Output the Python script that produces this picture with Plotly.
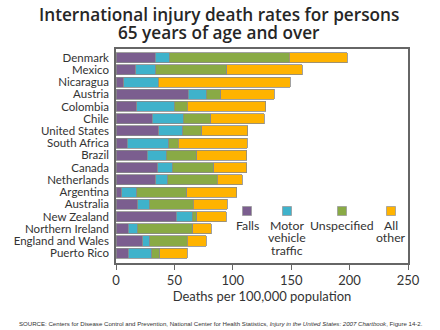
import plotly.graph_objects as go

countries = ["Denmark", "Mexico", "Nicaragua", "Austria", "Colombia", "Chile",
             "United States", "South Africa", "Brazil", "Canada", "Netherlands",
             "Argentina", "Australia", "New Zealand", "Northern Ireland",
             "England and Wales", "Puerto Rico"]
falls = [33.4, 16.8, 6.8, 61.9, 17.7, 31.1, 36.5, 9.7, 26.8, 35.7, 34.0,
         5.1, 18.6, 51.4, 10.6, 22.8, 10.6]
motor_vehicle = [12.2, 17.2, 29.4, 15.4, 32.2, 26.5, 20.5, 35.4, 16.3, 12.5, 10.5,
                 12.6, 9.9, 13.9, 7.7, 6.3, 19.9]
unspecified = [102.7, 60.7, 0.0, 12.3, 11.2, 23.4, 16.3, 8.3, 26.0, 35.4, 42.3,
               42.7, 37.7, 3.8, 47.3, 32.0, 6.9]
all_other = [49.7, 64.8, 113.0, 46.0, 67.3, 46.0, 39.7, 59.0, 42.8, 28.3, 21.1,
             42.9, 29.1, 25.4, 16.0, 16.0, 23.7]

series_names = ["Falls", "Motor vehicle traffic", "Unspecified", "All other"]
legend_lines = [["Falls"], ["Motor", "vehicle", "traffic"], ["Unspecified"], ["All", "other"]]
series_values = [falls, motor_vehicle, unspecified, all_other]
colors = ["#7b5e8f", "#3fb2cb", "#89aa45", "#ffb300"]

x_ticks = [0, 50, 100, 150, 200, 250]
title_lines = ["International injury death rates for persons", "65 years of age and over"]

fig = go.Figure()
for name, vals, col in zip(series_names, series_values, colors):
    fig.add_trace(go.Bar(
        y=countries, x=vals, orientation="h", name=name,
        marker=dict(color=col, line=dict(color="#8a8a8a", width=0.8)),
        showlegend=False,
    ))

# plot area in pixels (440x330 page)
L, R, T, B = 116, 408, 49, 263
W, H = R - L, B - T


def px_x(p):
    return (p - L) / W


def px_y(p):
    return (B - p) / H


# legend: coloured squares with stacked labels underneath
key_x = [247, 287, 342, 391]
key_y = 211
half = 4.5
shapes = []
annotations = []
for lines, col, kx in zip(legend_lines, colors, key_x):
    shapes.append(dict(type="rect", xref="paper", yref="paper",
                       x0=px_x(kx - half), x1=px_x(kx + half),
                       y0=px_y(key_y + half), y1=px_y(key_y - half),
                       fillcolor=col, line=dict(color="#9a9a9a", width=0.8)))
    for i, line in enumerate(lines):
        annotations.append(dict(xref="paper", yref="paper", x=px_x(kx), y=px_y(225 + 12.6 * i),
                                text=line, showarrow=False, xanchor="center", yanchor="middle",
                                font=dict(family="Lato", size=12.3, color="#333333")))

# two-line title
for i, line in enumerate(title_lines):
    annotations.append(dict(
        xref="paper", yref="paper", x=px_x(219), y=px_y(14 + 18.8 * i),
        xanchor="center", yanchor="middle", showarrow=False,
        text=line, font=dict(family="Open Sans", size=17.2, color="#262626", weight=600)))

annotations.append(dict(
    xref="paper", yref="paper", x=px_x(221), y=px_y(323), xanchor="center", yanchor="middle",
    showarrow=False,
    text=("SOURCE: Centers for Disease Control and Prevention, National Center for Health Statistics, "
          "<i>Injury in the United States: 2007 Chartbook</i>, Figure 14-2."),
    font=dict(family="Liberation Sans", size=6.1, color="#333333")))

fig.update_layout(
    barmode="stack",
    bargap=0.18,
    width=440, height=330,
    margin=dict(l=L, r=440 - R, t=T, b=330 - B),
    paper_bgcolor="white", plot_bgcolor="white",
    font=dict(family="Lato", size=11.5, color="#333333"),
    shapes=shapes,
    annotations=annotations,
    xaxis=dict(range=[0, 250], tickvals=x_ticks, ticks="outside", ticklen=5,
               tickcolor="#666666", showline=True, linecolor="#666666", linewidth=1.5,
               mirror=True, showgrid=False, zeroline=False,
               tickfont=dict(family="Lato", size=13, color="#333333"),
               title=dict(text="Deaths per 100,000 population", standoff=2,
                          font=dict(family="Lato", size=13, color="#333333"))),
    yaxis=dict(range=[16.8, -0.7], showline=True, linecolor="#666666", linewidth=1.5,
               mirror=True, showgrid=False, ticks="", ticklabelstandoff=3,
               tickmode="array", tickvals=countries, ticktext=countries,
               tickfont=dict(family="Lato", size=11.5, color="#333333")),
)

fig.write_html("out.html")
